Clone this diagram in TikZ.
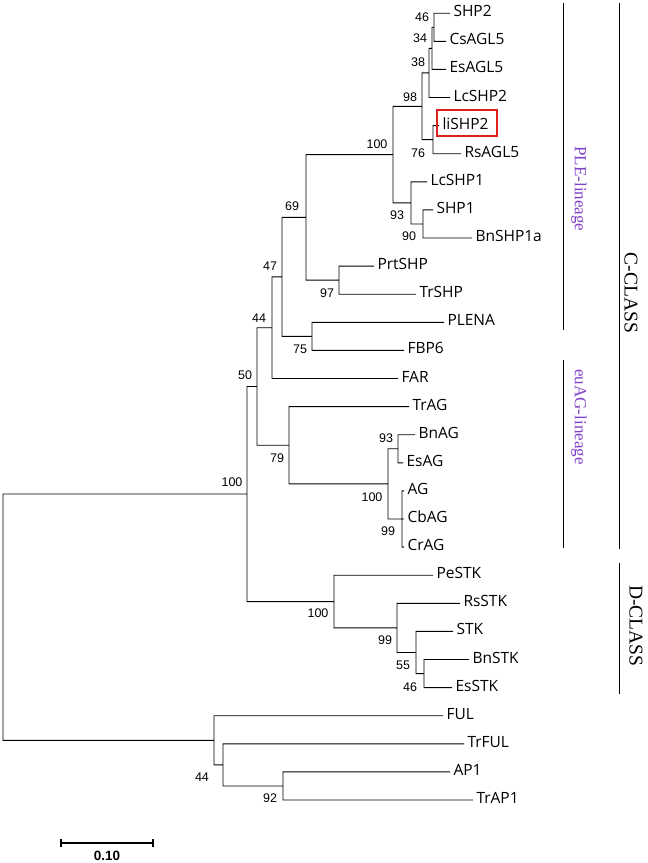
\documentclass[tikz,border=0pt]{standalone}
\usepackage{fontspec}
\newfontfamily\leaffont{Open Sans}
\newfontfamily\bootfont{Liberation Sans}
\newfontfamily\classfont{Liberation Serif}
\definecolor{lingpurple}{RGB}{128,64,200}
\definecolor{boxred}{RGB}{225,30,30}

\begin{document}
\begin{tikzpicture}[x=1pt, y=-1pt, line join=miter,
	leaf/.style={anchor=west, inner sep=0pt, outer xsep=3.5pt, text height=0.71em, text depth=0pt, font=\leaffont\fontsize{15.5}{18}\selectfont},
	boot/.style={inner sep=0pt, font=\bootfont\fontsize{12.5}{14}\selectfont},
	branch/.style={line width=0.9pt},
	cladebar/.style={line width=0.9pt},
	lineage/.style={rotate=-90, inner sep=0pt, text=lingpurple, font=\classfont\fontsize{17}{20}\selectfont},
	classlab/.style={rotate=-90, inner sep=0pt, font=\classfont\fontsize{19.5}{22}\selectfont}]
	\useasboundingbox (0,0) rectangle (648,863);
	\def\ytop{13.2} \def\dy{28.1}
	% leaves
	\foreach \nm/\txt/\xe [count=\i from 0] in {shp2/SHP2/450, csagl5/CsAGL5/446, esagl5/EsAGL5/446, lcshp2/LcSHP2/450, lishp2/liSHP2/439, rsagl5/RsAGL5/461, lcshp1/LcSHP1/427, shp1/SHP1/433, bnshp1a/BnSHP1a/472, prtshp/PrtSHP/374, trshp/TrSHP/416, plena/PLENA/444, fbp6/FBP6/404, far/FAR/398, trag/TrAG/409, bnag/BnAG/415, esag/EsAG/403, ag/AG/404, cbag/CbAG/404, crag/CrAG/404, pestk/PeSTK/433, rsstk/RsSTK/460, stk/STK/453, bnstk/BnSTK/469, esstk/EsSTK/452, ful/FUL/443, trful/TrFUL/464, ap1/AP1/450, trap1/TrAP1/473}
		\node[leaf] (\nm) at (\xe,{\ytop+\dy*\i}) {\txt};
	% inner nodes
	\coordinate (n46) at (434,27.25);
	\coordinate (n34) at (432,48.3);
	\coordinate (n38) at (429,72.9);
	\coordinate (n76) at (433,139.65);
	\coordinate (n98) at (422,106.3);
	\coordinate (n90) at (423,223.95);
	\coordinate (n93) at (411,202.9);
	\coordinate (nple) at (393,154.6);
	\coordinate (n97) at (339,280.15);
	\coordinate (n69) at (306,217.4);
	\coordinate (n75) at (312,336.35);
	\coordinate (n47) at (282,276.9);
	\coordinate (n44) at (272,327.7);
	\coordinate (n93ag) at (398,448.75);
	\coordinate (n99ag) at (402,519);
	\coordinate (n100ag) at (388,483.9);
	\coordinate (n79) at (289,445.25);
	\coordinate (n50) at (257,386.5);
	\coordinate (n46stk) at (424,673.55);
	\coordinate (n55) at (416,652.5);
	\coordinate (n99stk) at (397,627.9);
	\coordinate (n100d) at (334,601.55);
	\coordinate (ncd) at (247,494);
	\coordinate (n92) at (283,785.95);
	\coordinate (n44out) at (223,764.9);
	\coordinate (nout) at (214,740.3);
	\coordinate (root) at (3,617.15);
	% branches
	\draw[branch]
	(n46) |- (shp2) (n46) |- (csagl5)
	(n34) |- (n46) (n34) |- (esagl5)
	(n38) |- (n34) (n38) |- (lcshp2)
	(n76) |- (lishp2) (n76) |- (rsagl5)
	(n98) |- (n38) (n98) |- (n76)
	(n90) |- (shp1) (n90) |- (bnshp1a)
	(n93) |- (lcshp1) (n93) |- (n90)
	(nple) |- (n98) (nple) |- (n93)
	(n97) |- (prtshp) (n97) |- (trshp)
	(n69) |- (nple) (n69) |- (n97)
	(n75) |- (plena) (n75) |- (fbp6)
	(n47) |- (n69) (n47) |- (n75)
	(n44) |- (n47) (n44) |- (far)
	(n93ag) |- (bnag) (n93ag) |- (esag)
	(n99ag) |- (ag) (n99ag) -- (cbag) (n99ag) |- (crag)
	(n100ag) |- (n93ag) (n100ag) |- (n99ag)
	(n79) |- (trag) (n79) |- (n100ag)
	(n50) |- (n44) (n50) |- (n79)
	(n46stk) |- (bnstk) (n46stk) |- (esstk)
	(n55) |- (stk) (n55) |- (n46stk)
	(n99stk) |- (rsstk) (n99stk) |- (n55)
	(n100d) |- (pestk) (n100d) |- (n99stk)
	(ncd) |- (n50) (ncd) |- (n100d)
	(n92) |- (ap1) (n92) |- (trap1)
	(n44out) |- (trful) (n44out) |- (n92)
	(nout) |- (ful) (nout) |- (n44out)
	(root) |- (ncd) (root) |- (nout);
	% bootstrap values
	\foreach \nm/\xx/\yy/\v in {b46/422/17/46, b34/420/38/34, b38/418/62/38, b98/410/97/98, b76/418/153/76, bple/377/144/100, b93/397/215/93, b90/409/236/90, b69/292/206/69, b47/270/266/47, b97/327/293/97, b44/259/318/44, b75/300/349/75, b50/245/375/50, bcd/232/482/100, b79/277/458/79, b93ag/386/438/93, b100ag/372/497/100, b99ag/388/531/99, bd/318/613/100, b99stk/385/640/99, b55/403/665/55, b46stk/410/687/46, b44out/202/777/44, b92/270/798/92}
		\node[boot] (\nm) at (\xx,\yy) {\v};
	% highlighted sequence
	\draw[boxred, line width=1.4pt] ([xshift=-2pt,yshift=15.6pt]lishp2.west) rectangle ([xshift=5pt,yshift=-10.4pt]lishp2.east);
	% clade bars
	\draw[cladebar] (563,3) -- (563,330) (563,360) -- (563,548);
	\draw[cladebar] (619,3) -- (619,549) (619,563) -- (619,694);
	\node[lineage] (ple) at (579,189) {PLE-lineage};
	\node[lineage] (euag) at (579,417) {euAG-lineage};
	\node[classlab] (cclass) at (631,293) {C-CLASS};
	\node[classlab] (dclass) at (636,626) {D-CLASS};
	% scale bar
	\coordinate (sbl) at (61,843); \coordinate (sbr) at (153,843);
	\draw[line width=1.2pt] (sbl) -- (sbr) (sbl) ++(0,-4) -- ++(0,8) (sbr) ++(0,-4) -- ++(0,8);
	\node[boot, font=\bootfont\bfseries\fontsize{13.5}{15}\selectfont] (sblab) at (107,856) {0.10};
\end{tikzpicture}
\end{document}
